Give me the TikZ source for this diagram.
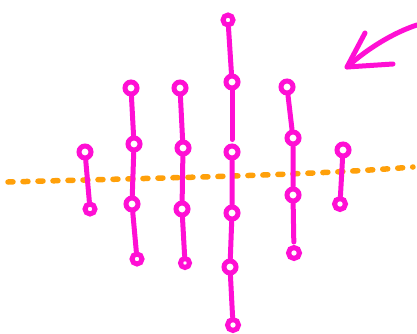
\documentclass[tikz,border=0pt]{standalone}
\definecolor{pinkish}{HTML}{FF0FD4}
\definecolor{orangeish}{HTML}{FFA00A}
\begin{document}
\begin{tikzpicture}[x=1pt,y=-1pt,
  knot/.style={circle,draw=pinkish,line width=5pt,minimum size=12pt,inner sep=0pt},
  stem/.style={draw=pinkish,line width=5pt,line cap=round},
  axisline/.style={draw=orangeish,line width=5.5pt,line cap=round,dash pattern=on 5pt off 10pt}]
\useasboundingbox (0,0) rectangle (417,334);
% orange dotted line
\coordinate (L) at (8,182);
\coordinate (R) at (413,167);
\draw[axisline] (L) .. controls (150,178) and (300,176) .. (R);
% column 1
\node[knot] (a1) at (85,152) {};
\node[knot,minimum size=10pt] (a2) at (90,209) {};
\draw[stem] (a1) -- (a2);
% column 2
\node[knot] (b1) at (131,88) {};
\node[knot] (b2) at (134,144) {};
\node[knot] (b3) at (132,204) {};
\node[knot,minimum size=10pt] (b4) at (137,259) {};
\draw[stem] (b1) -- (b2) -- (b3) -- (b4);
% column 3
\node[knot] (c1) at (180,88) {};
\node[knot] (c2) at (183,148) {};
\node[knot] (c3) at (182,209) {};
\node[knot,minimum size=9pt] (c4) at (185,263) {};
\draw[stem] (c1) -- (c2) -- (c3) -- (c4);
% column 4
\node[knot,minimum size=10pt] (d1) at (228,20) {};
\node[knot] (d2) at (232,82) {};
\node[knot] (d3) at (232,152) {};
\node[knot] (d4) at (232,213) {};
\node[knot] (d5) at (230,267) {};
\node[knot,minimum size=11pt] (d6) at (233,325) {};
\draw[stem] (d1) -- (d2);
\draw[stem,shorten >=4pt] (d2) -- (d3);
\draw[stem] (d3) -- (d4) -- (d5) -- (d6);
% column 5
\node[knot] (e1) at (287,87) {};
\node[knot] (e2) at (293,138) {};
\node[knot] (e3) at (293,195) {};
\node[knot,minimum size=11pt] (e4) at (294,253) {};
\draw[stem] (e1) -- (e2) -- (e3);
\draw[stem,shorten >=3pt] (e3) -- (e4);
% column 6
\node[knot] (f1) at (343,150) {};
\node[knot,minimum size=11pt] (f2) at (340,204) {};
\draw[stem] (f1) -- (f2);
% arrow
\coordinate (s) at (417,25);
\coordinate (tip) at (347,67);
\coordinate (w1) at (365,33);
\coordinate (w2) at (393,64);
\draw[stem] (s) .. controls (395,32) and (368,48) .. (tip);
\draw[stem,line join=round] (w1) -- (tip) -- (w2);
\end{tikzpicture}
\end{document}
